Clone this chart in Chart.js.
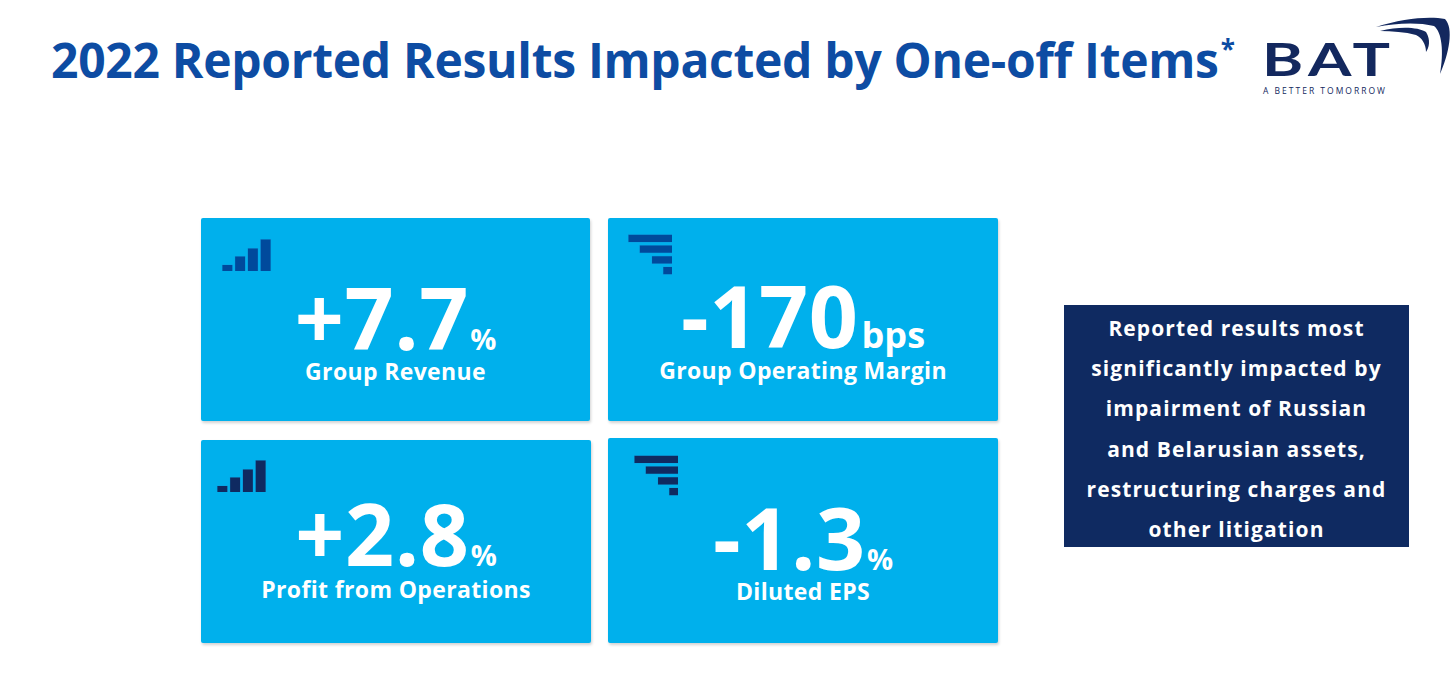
<!DOCTYPE html>
<html>
<head>
<meta charset="utf-8">
<script src="https://cdn.jsdelivr.net/npm/chart.js@4"></script>
<style>
  html, body { margin: 0; padding: 0; background: #fff; }
  body { width: 1456px; height: 676px; position: relative; overflow: hidden;
         font-family: "Open Sans", "DejaVu Sans", sans-serif; }
  h1 { position: absolute; left: 51px; top: 36px; margin: 0; font-size: 48px; font-weight: 700;
       color: #0d4ca3; line-height: 1; white-space: nowrap; letter-spacing: -0.3px; }
  h1 sup { font-size: 26px; position: relative; top: -2px; margin-left: 2px; }
  .tile { position: absolute; background: #00b0ec; border-radius: 2px;
          box-shadow: 1px 2px 3px rgba(0,0,0,0.18); color: #fff; }
  .tile canvas { position: absolute; }
  .value { position: absolute; left: 0; right: 0; text-align: center; white-space: nowrap;
           font-weight: 700; line-height: 1; letter-spacing: 0.6px; }
  .value .num { font-size: 86px; }
  .value .unit { font-size: 29px; letter-spacing: 0; margin-left: 1px; }
  .value .unit.bps { font-size: 36px; margin-left: 3px; }
  .label { position: absolute; left: 0; right: 0; text-align: center; white-space: nowrap;
           font-weight: 700; font-size: 23px; line-height: 1; letter-spacing: 0.35px; }
  .note { position: absolute; left: 1064px; top: 305px; width: 345px; height: 242px;
          background: #0f2a61; color: #fff; text-align: center; font-weight: 700;
          font-size: 21px; line-height: 40.2px; letter-spacing: 1.1px; box-sizing: border-box;
          padding-top: 3px; white-space: nowrap; }
  .logo { position: absolute; left: 1258px; top: 14px; width: 198px; height: 90px; }
  .logo .bat { position: absolute; left: 4px; top: 28px; font-size: 46px; font-weight: 700;
               color: #13285e; letter-spacing: 4px; line-height: 0.75; font-family: "Lato", sans-serif;
               transform: scaleX(1.36); transform-origin: left top; }
  .logo .tag { position: absolute; left: 5px; top: 73px; font-size: 8.5px; color: #13285e;
               letter-spacing: 2px; white-space: nowrap; line-height: 1; }
  .logo svg { position: absolute; left: 0; top: 0; }
</style>
</head>
<body>
<h1>2022 Reported Results Impacted by One-off Items<sup>*</sup></h1>

<div class="logo">
  <svg width="198" height="90" viewBox="0 0 198 90">
    <path d="M118 13 C145 4 172 2 187 5 C196 14 191 40 182 60 C186 38 184 18 176 12 C160 8 138 9 118 13 Z" fill="#13285e"/>
    <path d="M122 17 C142 12 160 13 168 18 C173 26 171 34 168 38 C168 30 164 24 158 21 C147 18 134 17 122 17 Z" fill="#13285e"/>
  </svg>
  <div class="bat">BAT</div>
  <div class="tag">A BETTER TOMORROW</div>
</div>

<div id="tiles"></div>

<div class="note">Reported results most<br>significantly impacted by<br>impairment of Russian<br>and Belarusian assets,<br>restructuring charges and<br>other litigation</div>

<script>
// KPI data
const kpiLabels = ["Group Revenue", "Group Operating Margin", "Profit from Operations", "Diluted EPS"];
const kpiValues = ["+7.7", "-170", "+2.8", "-1.3"];
const kpiUnits = ["%", "bps", "%", "%"];
const kpiTrend = ["up", "down", "up", "down"];

const upIconBars = [6.5, 15, 23, 32];
const downIconBars = [43, 32, 20, 9];

// layout
const tileBoxes = [
  { x: 201, y: 218, w: 389, h: 203, icon: "#004a9c", ix: 20, iy: 21, valTop: 56, labTop: 142 },
  { x: 608, y: 218, w: 390, h: 203, icon: "#004a9c", ix: 20, iy: 15, valTop: 54, labTop: 141 },
  { x: 201, y: 440, w: 390, h: 203, icon: "#0f2a61", ix: 15, iy: 20, valTop: 50, labTop: 138 },
  { x: 608, y: 438, w: 390, h: 205, icon: "#0f2a61", ix: 26, iy: 16, valTop: 56, labTop: 142 }
];

const holder = document.getElementById("tiles");

kpiLabels.forEach((label, i) => {
  const box = tileBoxes[i];
  const tile = document.createElement("div");
  tile.className = "tile";
  tile.style.left = box.x + "px";
  tile.style.top = box.y + "px";
  tile.style.width = box.w + "px";
  tile.style.height = box.h + "px";

  const unitClass = kpiUnits[i] === "bps" ? "unit bps" : "unit";
  tile.innerHTML = `
    <div class="value" style="top:${box.valTop}px"><span class="num">${kpiValues[i]}</span><span class="${unitClass}">${kpiUnits[i]}</span></div>
    <div class="label" style="top:${box.labTop}px">${label}</div>
  `;

  const up = kpiTrend[i] === "up";
  const cv = document.createElement("canvas");
  cv.width = up ? 51 : 44;
  cv.height = up ? 32 : 43;
  cv.style.left = box.ix + "px";
  cv.style.top = box.iy + "px";
  tile.appendChild(cv);
  holder.appendChild(tile);

  const bars = up ? upIconBars : downIconBars;

  new Chart(cv, {
    type: "bar",
    data: {
      labels: bars.map((_, k) => k),
      datasets: [{
        data: bars,
        backgroundColor: box.icon,
        borderColor: "rgba(40,120,200,0.6)",
        borderWidth: 0.5,
        barPercentage: up ? 0.86 : 0.78,
        categoryPercentage: 1
      }]
    },
    options: {
      indexAxis: up ? "x" : "y",
      responsive: false,
      animation: false,
      layout: { padding: 0 },
      plugins: { legend: { display: false }, tooltip: { enabled: false } },
      scales: up ? {
        x: { display: false },
        y: { display: false, min: 0, max: Math.max(...bars) }
      } : {
        x: { display: false, min: 0, max: Math.max(...bars), reverse: true },
        y: { display: false }
      }
    }
  });
});
</script>
</body>
</html>
